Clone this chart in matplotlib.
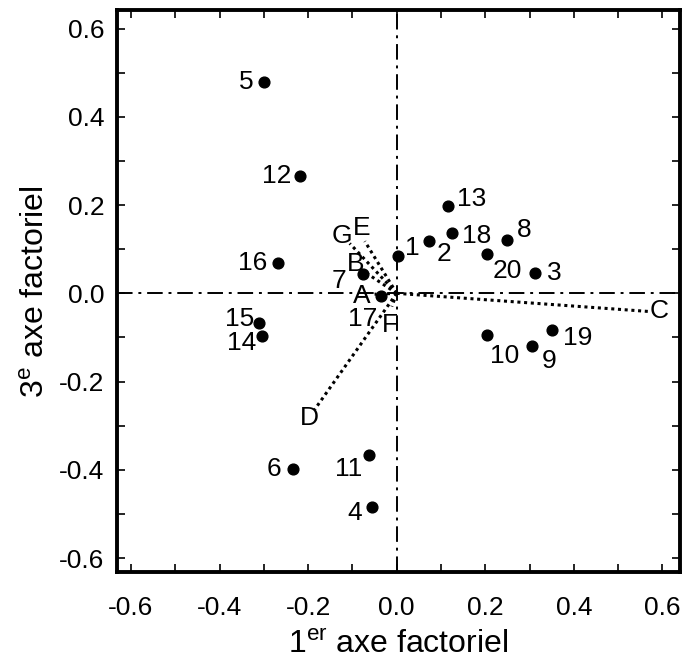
import matplotlib
matplotlib.use('Agg')
import matplotlib.pyplot as plt
from matplotlib.ticker import MultipleLocator

plt.rcParams['font.family'] = ['Liberation Sans', 'DejaVu Sans']
plt.rcParams['mathtext.fontset'] = 'custom'
plt.rcParams['mathtext.rm'] = 'Liberation Sans'

# observations (1..20): 1st and 3rd factor coordinates
obs_labels = ['1', '2', '3', '4', '5', '6', '7', '8', '9', '10',
              '11', '12', '13', '14', '15', '16', '17', '18', '19', '20']
obs_x = [0.002, 0.072, 0.312, -0.056, -0.300, -0.235, -0.077, 0.248, 0.305, 0.203,
         -0.063, -0.219, 0.115, -0.305, -0.311, -0.269, -0.036, 0.124, 0.350, 0.203]
obs_y = [0.084, 0.118, 0.045, -0.485, 0.478, -0.399, 0.043, 0.120, -0.120, -0.095,
         -0.367, 0.265, 0.197, -0.097, -0.068, 0.068, -0.005, 0.136, -0.084, 0.088]
# label offsets in pixels (left edge, vertical centre)
obs_off = [(7, 8), (8, -13), (12, 0), (-25, -6), (-25, 0), (-26, 0), (-31, -7), (10, 10),
           (10, -15), (3, -21), (-34, -14), (-38, 0), (9, 7), (-35, -7), (-34, 4),
           (-40, 0), (-33, -23), (10, -3), (11, -8), (6, -17)]

# variables A..G: loading vectors
var_labels = ['A', 'B', 'C', 'D', 'E', 'F', 'G']
var_x = [-0.050, -0.088, 0.567, -0.185, -0.072, -0.011, -0.106]
var_y = [-0.002, 0.059, -0.041, -0.263, 0.118, -0.030, 0.113]
var_off = [(-22, -2), (-11, 3), (2, 0), (-15, -9), (-12, 13), (-10, -18), (-18, 7)]

fig = plt.figure(figsize=(6.87, 6.70), dpi=100)
ax = fig.add_axes([0.170, 0.146, 0.820, 0.839])

ax.axhline(0, color='black', lw=1.4, ls=(0, (8, 3, 1.5, 3)), zorder=1)
ax.axvline(0, color='black', lw=1.4, ls=(0, (8, 3, 1.5, 3)), zorder=1)

for lab, vx, vy, off in zip(var_labels, var_x, var_y, var_off):
    ax.plot([0, vx], [0, vy], color='black', lw=2.2, ls=(0, (1, 1.2)), zorder=2)
    ax.annotate(lab, (vx, vy), xytext=off, textcoords='offset pixels',
                fontsize=19, va='center', ha='left')

ax.scatter(obs_x, obs_y, s=60, color='black', zorder=3)
for lab, ox, oy, off in zip(obs_labels, obs_x, obs_y, obs_off):
    ax.annotate(lab, (ox, oy), xytext=off, textcoords='offset pixels',
                fontsize=19, va='center', ha='left')

ax.set_xlim(-0.632, 0.640)
ax.set_ylim(-0.632, 0.642)
ax.xaxis.set_major_locator(MultipleLocator(0.2))
ax.yaxis.set_major_locator(MultipleLocator(0.2))
ax.xaxis.set_minor_locator(MultipleLocator(0.1))
ax.yaxis.set_minor_locator(MultipleLocator(0.1))
ax.xaxis.set_major_formatter(lambda v, p: f'{v:.1f}')
ax.yaxis.set_major_formatter(lambda v, p: f'{v:.1f}')
ax.tick_params(which='both', direction='in', top=True, right=True,
               length=6, width=1.2, labelsize=19)
ax.tick_params(axis='x', which='both', pad=17)
ax.tick_params(axis='y', which='both', pad=9)
for sp in ax.spines.values():
    sp.set_linewidth(2.8)

ax.set_xlabel('1$^{\\mathrm{er}}$ axe factoriel', fontsize=23, labelpad=7)
ax.set_ylabel('3$^{\\mathrm{e}}$ axe factoriel', fontsize=23, labelpad=6)

fig.savefig('out.png', dpi=100)
